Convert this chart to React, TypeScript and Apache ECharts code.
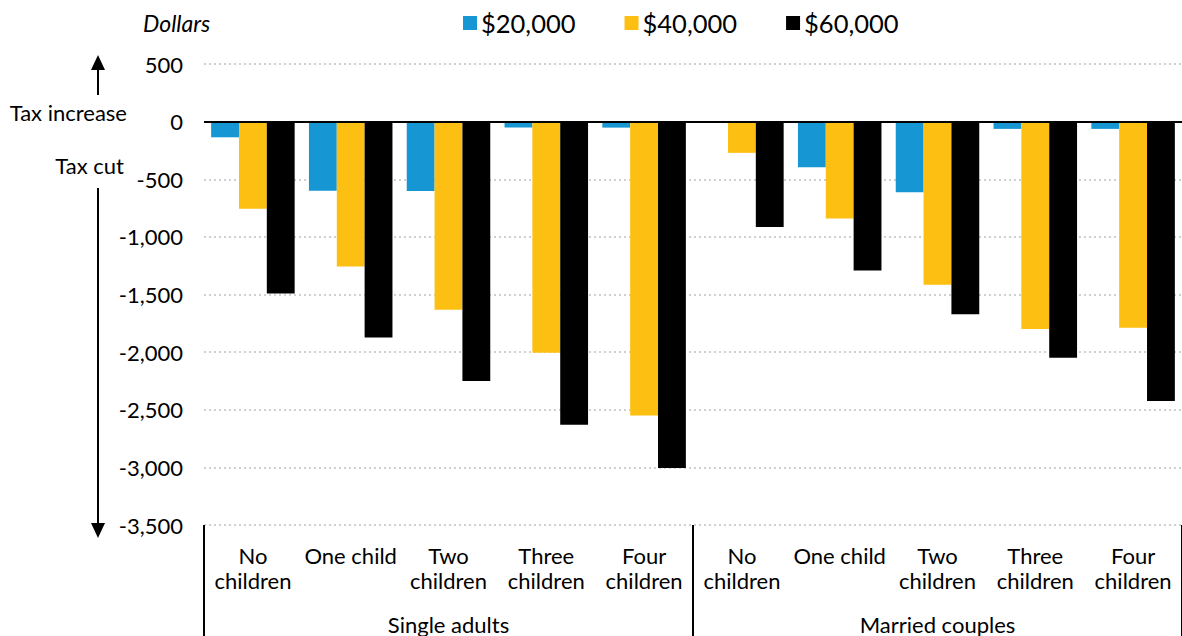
import React, { useEffect, useRef } from "react";
import * as echarts from "echarts";

const categories = [
  "No\nchildren", "One child", "Two\nchildren", "Three\nchildren", "Four\nchildren",
  "No\nchildren", "One child", "Two\nchildren", "Three\nchildren", "Four\nchildren",
];
const groups = ["Single adults", "Married couples"];
const seriesNames = ["$20,000", "$40,000", "$60,000"];
const income20k = [-136, -600, -603, -52, -52, 0, -396, -612, -63, -63];
const income40k = [-756, -1256, -1632, -2006, -2550, -271, -840, -1415, -1799, -1788];
const income60k = [-1491, -1874, -2250, -2631, -3006, -915, -1291, -1672, -2048, -2423];
const yMin = -3500;
const yMax = 500;
const yStep = 500;

const colors = ["#1696d2", "#fdbf11", "#000000"];
const FONT = "Lato";

export default function App() {
  const ref = useRef<HTMLDivElement>(null);
  useEffect(() => {
    document.body.style.margin = "0";
    document.body.style.overflow = "hidden";
    document.documentElement.style.overflow = "hidden";
    const chart = echarts.init(ref.current!, null, { renderer: "svg" });
    const values = [income20k, income40k, income60k];
    chart.setOption({
      animation: false,
      textStyle: { fontFamily: FONT, color: "#000" },
      title: {
        text: "Dollars",
        left: 138,
        top: 6,
        textStyle: { fontFamily: FONT, fontStyle: "italic", fontWeight: "normal", fontSize: 23, color: "#000" },
      },
      legend: {
        left: 458,
        top: 5,
        icon: "rect",
        itemWidth: 14,
        itemHeight: 14,
        itemGap: 49,
        textStyle: { fontFamily: FONT, fontSize: 25.5, color: "#000", padding: [0, 0, 0, -1] },
        data: seriesNames,
      },
      grid: { left: 204, right: -6, top: 64, bottom: 111, containLabel: false },
      xAxis: [
        {
          type: "category",
          data: categories,
          position: "bottom",
          axisLine: { show: false, onZero: false },
          axisTick: {
            show: true,
            length: 111,
            interval: (i: number) => i % 5 === 0,
            lineStyle: { color: "#000", width: 2 },
          },
          axisLabel: {
            interval: 0,
            margin: 18,
            fontFamily: FONT,
            fontSize: 22,
            lineHeight: 25,
            color: "#000",
          },
          splitLine: { show: false },
        },
        {
          type: "category",
          data: groups,
          position: "bottom",
          offset: 80,
          axisLine: { show: false, onZero: false },
          axisTick: { show: false },
          axisLabel: {
            interval: 0,
            margin: 8,
            fontFamily: FONT,
            fontSize: 22,
            lineHeight: 22,
            color: "#000",
          },
        },
      ],
      yAxis: {
        type: "value",
        min: yMin,
        max: yMax,
        interval: yStep,
        axisLine: { show: false },
        axisTick: { show: false },
        axisLabel: {
          margin: 21,
          fontFamily: FONT,
          fontSize: 22,
          color: "#000",
          formatter: (v: number) => v.toLocaleString("en-US"),
        },
        splitLine: { lineStyle: { type: [2, 3], color: "#d0d0d0", width: 2 } },
      },
      series: seriesNames.map((name, k) => ({
        name,
        type: "bar",
        xAxisIndex: 0,
        data: values[k],
        barGap: "0%",
        barCategoryGap: "14.6%",
        itemStyle: { color: colors[k] },
        ...(k === 2
          ? {
              markLine: {
                silent: true,
                symbol: "none",
                label: { show: false },
                lineStyle: { color: "#000", width: 2, type: "solid" },
                data: [{ yAxis: 0 }],
              },
            }
          : {}),
      })),
      graphic: [
        { type: "line", shape: { x1: 98, y1: 95, x2: 98, y2: 68 }, style: { stroke: "#000", lineWidth: 2 } },
        { type: "polygon", shape: { points: [[91, 70], [105, 70], [98, 55]] }, style: { fill: "#000" } },
        { type: "line", shape: { x1: 98, y1: 188, x2: 98, y2: 525 }, style: { stroke: "#000", lineWidth: 2 } },
        { type: "polygon", shape: { points: [[91, 523], [105, 523], [98, 538]] }, style: { fill: "#000" } },
        {
          type: "text",
          x: 127,
          y: 112,
          style: { text: "Tax increase", fontFamily: FONT, fontSize: 22, fill: "#000", align: "right", verticalAlign: "middle" },
        },
        {
          type: "text",
          x: 124,
          y: 165,
          style: { text: "Tax cut", fontFamily: FONT, fontSize: 22, fill: "#000", align: "right", verticalAlign: "middle" },
        },
      ],
    });
    return () => chart.dispose();
  }, []);
  return <div ref={ref} style={{ width: 1182, height: 636, overflow: "hidden" }} />;
}
